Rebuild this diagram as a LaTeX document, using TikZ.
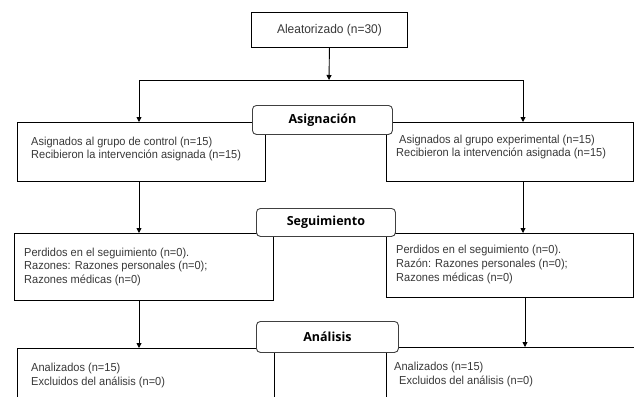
\documentclass[tikz,border=0pt]{standalone}
\usepackage{fontspec}
\setmainfont[FakeStretch=0.95]{Liberation Sans}
\newfontfamily\labfont{Open Sans}
\usetikzlibrary{arrows.meta,calc}
\begin{document}
\begin{tikzpicture}[x=1pt,y=-1pt,
 box/.style={draw=black, line width=0.9pt, rectangle, inner sep=0pt, anchor=north west},
 lab/.style={draw=black!75, line width=0.9pt, rounded corners=4pt, fill=white, inner sep=0pt, anchor=north west, font=\labfont\bfseries\fontsize{12.5}{14}\selectfont, text=black},
 txt/.style={anchor=base west, inner sep=0pt, align=left, font=\fontsize{11.6}{13.3}\selectfont, text=black!78},
 txtb/.style={txt, font=\fontsize{11.6}{13.8}\selectfont},
 arr/.style={draw=black, line width=0.9pt, -{Triangle[length=5pt,width=5pt]}},
 con/.style={draw=black, line width=0.9pt}
]
\useasboundingbox (0,0) rectangle (634,396);
\clip (0,0) rectangle (634,396);
% boxes
\node[box, minimum width=156pt, minimum height=35pt, font=\fontsize{12.6}{14}\selectfont, text=black!78] (top) at (251,12) {Aleatorizado (n=30)};
\node[box, minimum width=248pt, minimum height=59pt] (b1L) at (17,122) {};
\node[box, minimum width=247pt, minimum height=59pt] (b1R) at (386,122) {};
\node[box, minimum width=259pt, minimum height=67pt] (b2L) at (14,233) {};
\node[box, minimum width=247pt, minimum height=64pt] (b2R) at (386,233) {};
\node[box, minimum width=257pt, minimum height=70pt] (b3L) at (17,348) {};
\node[box, minimum width=252pt, minimum height=70pt] (b3R) at (386,347) {};
% texts (base anchor = baseline of last line)
\node[txt] (t1L) at (31,158.3) {Asignados al grupo de control (n=15)\\Recibieron la intervención asignada (n=15)};
\node[txt] (t1R) at (396,156.7) {\hspace{3pt}Asignados al grupo experimental (n=15)\\Recibieron la intervención asignada (n=15)};
\node[txtb] (t2L) at (24,283.7) {Perdidos en el seguimiento (n=0).\\Razones: Razones personales (n=0);\\Razones médicas (n=0)};
\node[txtb] (t2R) at (396,281.3) {Perdidos en el seguimiento (n=0).\\Razón: Razones personales (n=0);\\Razones médicas (n=0)};
\node[txtb] (t3L) at (31,385) {Analizados (n=15)\\Excluidos del análisis (n=0)};
\node[txtb] (t3R) at (394,384) {Analizados (n=15)\\\hspace{5pt}Excluidos del análisis (n=0)};
% phase labels
\node[lab, minimum width=140pt, minimum height=29pt] (asig) at (252,105) {Asignación};
\node[lab, minimum width=139pt, minimum height=28pt] (seg) at (256,208) {Seguimiento};
\node[lab, minimum width=142pt, minimum height=31pt] (ana) at (256,321) {Análisis};
% connectors
\coordinate (split) at (329,80);
\coordinate (splitL) at (139,80);
\coordinate (splitR) at (523,80);
\coordinate (colR) at (525,300);
\draw[arr] (top.south) -- (split);
\draw[con] (splitL) -- (splitR);
\draw[arr] (splitL) -- (splitL |- b1L.north);
\draw[arr] (splitR) -- (splitR |- b1R.north);
\draw[arr] (b1L.south -| splitL) -- (b2L.north -| splitL);
\draw[arr] (b1R.south -| splitR) -- (b2R.north -| splitR);
\draw[arr] (b2L.south -| splitL) -- (b3L.north -| splitL);
\draw[arr] (b2R.south -| colR) -- (b3R.north -| colR);
\end{tikzpicture}
\end{document}
